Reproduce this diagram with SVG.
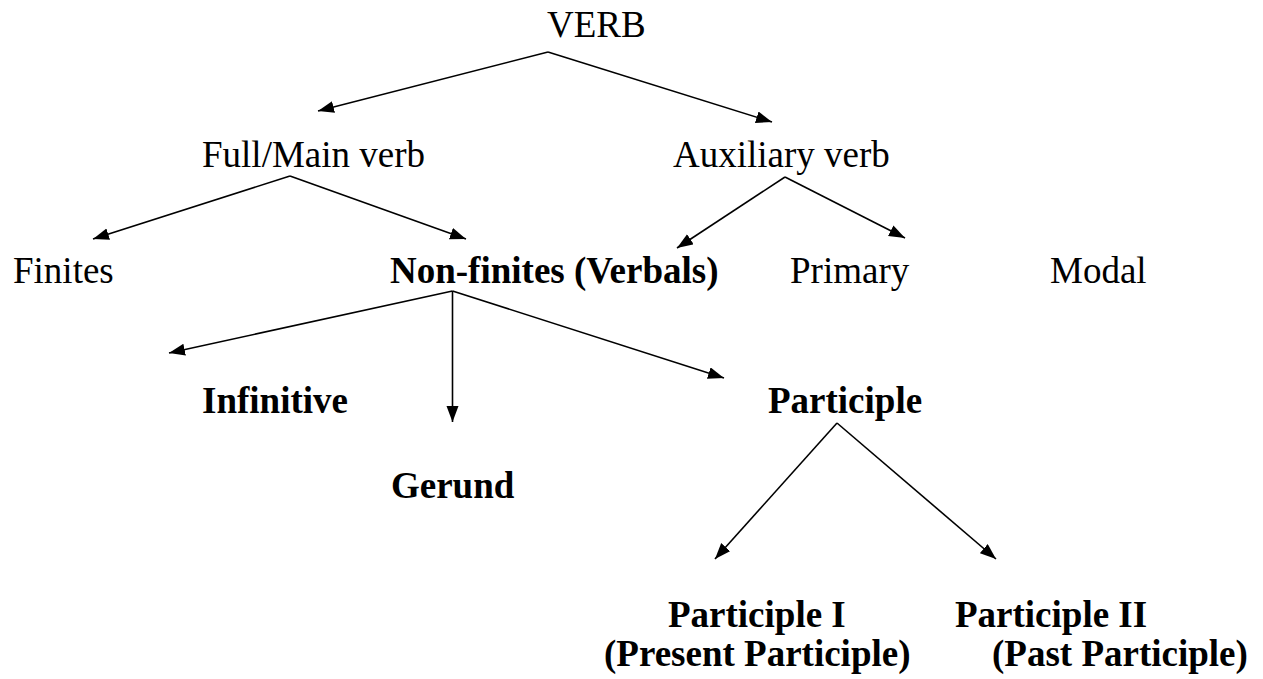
<svg xmlns="http://www.w3.org/2000/svg" width="1263" height="679" viewBox="0 0 1263 679">
<style>
text{font-family:"Liberation Serif","Times New Roman",serif;font-size:37px;fill:#000}
.b{font-weight:bold}
.c line{stroke:#000;stroke-width:1.6;marker-end:url(#ah)}
</style>
<defs>
<marker id="ah" markerUnits="userSpaceOnUse" markerWidth="17" markerHeight="13" refX="16" refY="6" orient="auto">
<path d="M0,0 L16,6 L0,12 z" fill="#000"/>
</marker>
</defs>
<rect width="1263" height="679" fill="#fff"/>
<g id="connectors" class="c">
<line x1="548" y1="52" x2="318" y2="111"/>
<line x1="548" y1="52" x2="772" y2="122"/>
<line x1="290" y1="176" x2="93" y2="239"/>
<line x1="290" y1="176" x2="466" y2="239"/>
<line x1="785" y1="177" x2="677" y2="248"/>
<line x1="785" y1="177" x2="905" y2="238"/>
<line x1="452.5" y1="291" x2="169" y2="353"/>
<line x1="452.5" y1="291" x2="452.5" y2="422"/>
<line x1="452.5" y1="291" x2="724" y2="378"/>
<line x1="837" y1="423" x2="715" y2="559"/>
<line x1="837" y1="423" x2="996" y2="559"/>
</g>
<g id="verb"><text x="547" y="37">VERB</text></g>
<g id="full-main"><text x="202" y="167">Full/Main verb</text></g>
<g id="auxiliary"><text x="673" y="167">Auxiliary verb</text></g>
<g id="finites"><text x="13" y="283">Finites</text></g>
<g id="non-finites"><text class="b" x="390" y="283">Non-finites (Verbals)</text></g>
<g id="primary"><text x="790" y="283">Primary</text></g>
<g id="modal"><text x="1050" y="283">Modal</text></g>
<g id="infinitive"><text class="b" x="202" y="413">Infinitive</text></g>
<g id="gerund"><text class="b" x="391" y="498">Gerund</text></g>
<g id="participle"><text class="b" x="768" y="413">Participle</text></g>
<g id="participle-1"><text class="b" x="668" y="627">Participle I</text><text class="b" x="604" y="666">(Present Participle)</text></g>
<g id="participle-2"><text class="b" x="955" y="627">Participle II</text><text class="b" x="992" y="666">(Past Participle)</text></g>
</svg>
